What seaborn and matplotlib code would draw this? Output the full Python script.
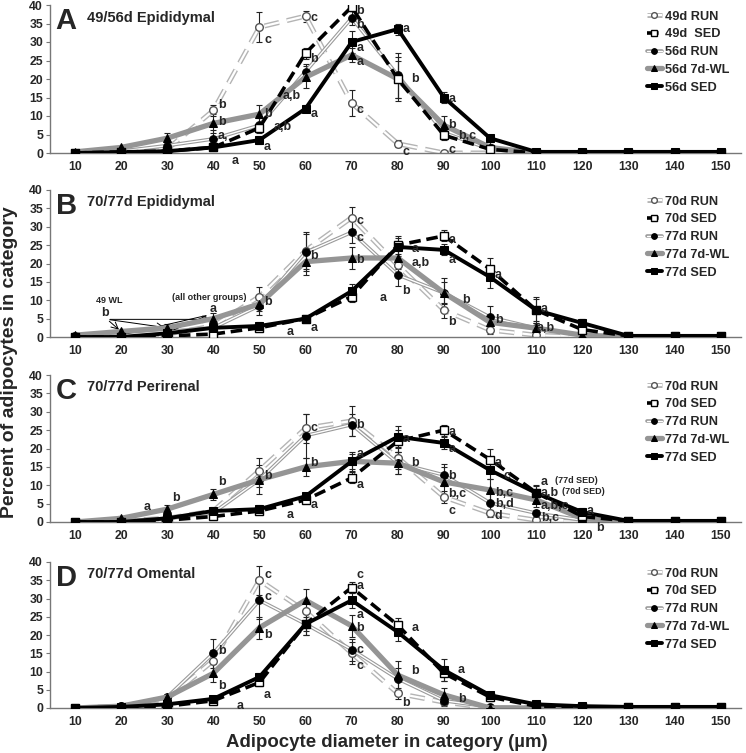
import numpy as np
import pandas as pd
import matplotlib
matplotlib.use("Agg")
import matplotlib.pyplot as plt
import seaborn as sns
from matplotlib.legend_handler import HandlerTuple

sns.set_theme(style="white")
plt.rcParams["font.family"] = ["Liberation Sans", "DejaVu Sans"]
plt.rcParams["font.weight"] = "bold"

diam = [10, 20, 30, 40, 50, 60, 70, 80, 90, 100, 110, 120, 130, 140, 150]

# Panel A: 49/56d Epididymal (mean % and error)
a_49run = [0, 0.5, 1, 11.5, 34, 37, 13.5, 2.5, 0, 0, 0, 0, 0, 0, 0]
a_49sed = [0, 0.3, 0.5, 1.5, 6.8, 27, 39.5, 20, 4.8, 1, 0, 0, 0, 0, 0]
a_56run = [0, 0.5, 2, 3.8, 7.5, 22, 36.5, 21, 5.5, 1, 0, 0, 0, 0, 0]
a_56wl = [0.3, 1.5, 4, 8, 10.5, 20.5, 26.5, 20, 7.5, 1.5, 0, 0, 0, 0, 0]
a_56sed = [0, 0.2, 0.5, 1.5, 3.5, 12, 30, 33.5, 15, 4, 0.3, 0.3, 0.3, 0.3, 0.3]
a_49run_e = [0, 0, 0, 1.5, 4, 1.5, 3.5, 1, 0, 0, 0, 0, 0, 0, 0]
a_49sed_e = [0, 0, 0, 0.5, 1, 1.5, 1, 6, 1, 0.5, 0, 0, 0, 0, 0]
a_56run_e = [0, 0, 1, 2.5, 2, 2, 2, 6, 2, 0.5, 0, 0, 0, 0, 0]
a_56wl_e = [0, 0.5, 1.5, 2.5, 2.5, 3, 2, 5, 2.5, 1, 0, 0, 0, 0, 0]
a_56sed_e = [0, 0, 0.5, 0.5, 1, 1, 3, 1.5, 1.5, 1, 0, 0, 0, 0, 0]

# Panel B: 70/77d Epididymal
b_70run = [0.2, 0.5, 0.8, 3, 11, 23.5, 32.5, 19.5, 7.3, 1.9, 0.5, 0, 0, 0, 0]
b_70sed = [0, 0, 0.3, 0.8, 2.5, 5, 11, 25, 27.5, 18.5, 7.3, 2, 0.3, 0.2, 0.2]
b_77run = [0.2, 0.5, 1.5, 2.5, 8.5, 23, 28.5, 16.9, 12, 5.4, 2.4, 0.5, 0, 0, 0]
b_77wl = [0.5, 1.5, 2.5, 5, 9, 20.5, 21.5, 21.5, 12, 4, 2.4, 0.5, 0, 0, 0]
b_77sed = [0, 0, 1, 2.5, 3, 5, 12.5, 24.5, 23.7, 16.3, 7.3, 3.8, 0.3, 0.3, 0.3]
b_70run_e = [0, 0, 0, 1, 2.5, 5, 3, 2, 2, 1, 0.5, 0, 0, 0, 0]
b_70sed_e = [0, 0, 0, 0.5, 0.5, 0.5, 1.5, 2.5, 1.5, 3, 3, 3, 0, 0, 0]
b_77run_e = [0, 0, 0.5, 1, 2.5, 5, 3, 3, 3, 3, 1, 0, 0, 0, 0]
b_77wl_e = [0, 0.5, 1, 1.5, 2, 3.5, 3, 3, 4, 2, 1.5, 0, 0, 0, 0]
b_77sed_e = [0, 0, 0.5, 0.5, 1, 0.5, 2, 2.5, 1.5, 3, 3.5, 1, 0, 0, 0]

# Panel C: 70/77d Perirenal
c_70run = [0, 0.3, 1, 3, 14, 25.5, 27.5, 17.5, 6.8, 2.4, 0.5, 0, 0, 0, 0]
c_70sed = [0, 0, 0.5, 1.5, 3, 6, 12, 22, 25, 17, 8, 1.5, 0.3, 0.2, 0.2]
c_77run = [0, 0.3, 1, 2.5, 11.5, 23.5, 26.5, 16, 12.8, 5.2, 2.4, 0.5, 0, 0, 0]
c_77wl = [0, 1, 3.5, 7.5, 11.5, 15, 16.5, 16, 10.9, 8.7, 6, 1, 0, 0, 0]
c_77sed = [0, 0, 1, 3, 3.5, 7, 16.5, 23.2, 21.5, 14.1, 7.9, 2.7, 0.3, 0.3, 0.3]
c_70run_e = [0, 0, 0, 1, 3.5, 4, 4, 3, 1.5, 1, 0.5, 0, 0, 0, 0]
c_70sed_e = [0, 0, 0, 0.5, 0.5, 0.5, 1.5, 3, 1.5, 3, 2, 1, 0, 0, 0]
c_77run_e = [0, 0, 0.5, 1, 4, 6, 3, 3, 3, 3, 1, 0.5, 0, 0, 0]
c_77wl_e = [0, 0.5, 1, 1.5, 2, 2.5, 2, 3, 4, 3, 2, 0.5, 0, 0, 0]
c_77sed_e = [0, 0, 0.5, 0.5, 1, 0.5, 2.5, 3, 1.5, 2.5, 2, 1, 0, 0, 0]

# Panel D: 70/77d Omental
d_70run = [0, 0.5, 2.5, 13, 35, 26.5, 15, 4, 1.6, 0, 0, 0, 0, 0, 0]
d_70sed = [0, 0, 0.5, 2, 7, 23, 33, 22.7, 9.5, 3, 0.5, 0.3, 0.2, 0.2, 0.2]
d_77run = [0, 0.5, 3, 15, 29.5, 23, 16, 8, 2, 0.3, 0, 0, 0, 0, 0]
d_77wl = [0, 0.5, 3, 9.5, 22, 29.5, 22.5, 9, 3.6, 0, 0, 0, 0, 0, 0]
d_77sed = [0, 0.3, 1, 2.5, 8.5, 23, 29.5, 20.8, 10.4, 3.5, 1, 0.5, 0.3, 0.3, 0.3]
d_70run_e = [0, 0, 0, 3, 4, 3, 3, 1.5, 1, 0, 0, 0, 0, 0, 0]
d_70sed_e = [0, 0, 0, 0.5, 1, 2, 1.5, 2, 2, 1, 0.5, 0, 0, 0, 0]
d_77run_e = [0, 0, 0.5, 4, 5, 3, 3, 3, 1, 0, 0, 0, 0, 0, 0]
d_77wl_e = [0, 0, 0.5, 2.5, 3, 3, 3, 4, 2, 0, 0, 0, 0, 0, 0]
d_77sed_e = [0, 0, 0.5, 0.5, 1, 3, 2, 2.5, 3, 1, 0.5, 0, 0, 0, 0]

panel_letters = ["A", "B", "C", "D"]
panel_titles = ["49/56d Epididymal", "70/77d Epididymal", "70/77d Perirenal", "70/77d Omental"]
legend_labels = [
    ["49d RUN", "49d  SED", "56d RUN", "56d 7d-WL", "56d SED"],
    ["70d RUN", "70d SED", "77d RUN", "77d 7d-WL", "77d SED"],
    ["70d RUN", "70d SED", "77d RUN", "77d 7d-WL", "77d SED"],
    ["70d RUN", "70d SED", "77d RUN", "77d 7d-WL", "77d SED"],
]
panel_data = [
    [a_49run, a_49sed, a_56run, a_56wl, a_56sed],
    [b_70run, b_70sed, b_77run, b_77wl, b_77sed],
    [c_70run, c_70sed, c_77run, c_77wl, c_77sed],
    [d_70run, d_70sed, d_77run, d_77wl, d_77sed],
]
panel_err = [
    [a_49run_e, a_49sed_e, a_56run_e, a_56wl_e, a_56sed_e],
    [b_70run_e, b_70sed_e, b_77run_e, b_77wl_e, b_77sed_e],
    [c_70run_e, c_70sed_e, c_77run_e, c_77wl_e, c_77sed_e],
    [d_70run_e, d_70sed_e, d_77run_e, d_77wl_e, d_77sed_e],
]

# significance letters (x, y, text)
panel_notes = [
    [(71, 38.5, "b"), (71, 34.5, "b"), (71, 28.5, "a"), (71, 24.5, "a"), (61, 36.5, "c"),
     (51, 30.5, "c"), (71, 11.5, "c"), (61, 25.5, "b"), (55, 15.5, "a,b"), (61, 10.5, "a"),
     (51, 10.5, "b"), (53, 7, "a,b"), (51, 1.5, "a"), (41, 13, "b"), (41, 8.5, "b"),
     (41, 4.5, "a,"), (44, -2.2, "a"), (81, 33.5, "a"), (83, 20, "b"), (81, 0.3, "c"),
     (91, 14.5, "a"), (91, 7.5, "b"), (93, 4.5, "b,c"), (91, 0.8, "c")],
    [(71, 31.5, "c"), (71, 27, "c"), (71, 21, "b"), (61, 22, "b"), (51, 9.5, "b"),
     (76, 10.5, "a"), (61, 2.5, "a"), (56, 1.3, "a"), (83, 24, "a"),
     (83, 20, "a,b"), (81, 12.5, "b"), (91, 26.5, "a"), (91, 21, "a"), (94, 10, "b"),
     (101, 17, "a"), (91, 4, "b"), (101, 4.5, "b"), (111, 7.5, "a"), (110, 2.5, "a,b")],
    [(61, 25.5, "c"), (71, 26.5, "b"), (61, 16, "b"), (51, 12.5, "b"), (41, 11, "b"),
     (31, 6.5, "b"), (25, 4, "a"), (71, 18.5, "a"), (71, 10, "a"), (61, 4.5, "a"),
     (56, 1.8, "a"), (81, 22.5, "a"), (83, 16, "b"), (91, 24.5, "a"), (91, 20, "a"),
     (91, 12.5, "b"), (91, 7.5, "b,c"), (91, 3, "c"), (101, 16, "a"), (103, 12.5, "c"),
     (101, 8, "b,c"), (101, 5, "b,d"), (101, 1.5, "d"), (111, 11, "a"),
     (111, 8, "a,b"), (111, 4.3, "a,b,c"), (111, 1.0, "b,c"), (121, 3, "a"), (123, -1.5, "b")],
    [(71, 36.5, "c"), (51, 36.5, "c"), (51, 30.5, "c"), (51, 20, "b"), (41, 15.5, "b"),
     (41, 6, "b"), (71, 33.5, "a"), (71, 25.5, "a"), (71, 22, "b"), (71, 16, "c"),
     (71, 11.5, "c"), (51, 3.5, "a"), (45, 0.5, "a"), (83, 22, "a"), (83, 10, "b"),
     (81, 1.5, "b"), (93, 10.5, "a"), (93, 2.5, "b")],
]

fig = plt.figure(figsize=(7.46, 7.53), dpi=100)
W, H = 746, 753
ax_px = [(5, 153), (190, 337), (375, 522), (562, 708)]
left_px, right_px = 50, 741
xlim = (4.6, 154.4)

RUN_GREY = "#b4b4b4"
WL_GREY = "#959595"
MS = 5.5

for i, (top, bot) in enumerate(ax_px):
    ax = fig.add_axes([left_px / W, 1 - bot / H, (right_px - left_px) / W, (bot - top) / H])
    ser = panel_data[i]
    errs = panel_err[i]
    labs = legend_labels[i]
    handles = []

    # error bars
    for k, (vals, e) in enumerate(zip(ser, errs)):
        xs = [x for x, ee in zip(diam, e) if ee > 0]
        ys = [v for v, ee in zip(vals, e) if ee > 0]
        es = [ee for ee in e if ee > 0]
        ax.errorbar(xs, ys, yerr=es, fmt="none", ecolor="#222222", elinewidth=0.8,
                    capsize=2, capthick=0.8, zorder=1.5)

    # series 1: open circles, hollow light grey dashed line
    l1a = sns.lineplot(x=diam, y=ser[0], ax=ax, color=RUN_GREY, lw=3.6,
                       linestyle=(0, (3.0, 1.6)), zorder=2).lines[-1]
    l1b = sns.lineplot(x=diam, y=ser[0], ax=ax, color="white", lw=1.6,
                       linestyle=(0, (6.75, 3.6)), marker="o", markersize=MS,
                       markerfacecolor="white", markeredgecolor="#555555",
                       markeredgewidth=1.0, zorder=2.1).lines[-1]
    handles.append((l1a, l1b))

    # series 2: open squares, black dashed
    l2 = sns.lineplot(x=diam, y=ser[1], ax=ax, color="black", lw=2.6,
                      linestyle=(0, (3.2, 1.6)), marker="s", markersize=MS,
                      markerfacecolor="white", markeredgecolor="black",
                      markeredgewidth=1.0, zorder=5).lines[-1]
    handles.append(l2)

    # series 3: filled circles, hollow thin grey line
    l3a = sns.lineplot(x=diam, y=ser[2], ax=ax, color="#9a9a9a", lw=2.6, zorder=3).lines[-1]
    l3b = sns.lineplot(x=diam, y=ser[2], ax=ax, color="white", lw=1.0, marker="o",
                       markersize=MS, markerfacecolor="black", markeredgecolor="black",
                       zorder=3.1).lines[-1]
    handles.append((l3a, l3b))

    # series 4: thick grey with black triangles
    l4 = sns.lineplot(x=diam, y=ser[3], ax=ax, color=WL_GREY, lw=3.8, marker="^",
                      markersize=MS, markerfacecolor="black", markeredgecolor="black",
                      zorder=4).lines[-1]
    handles.append(l4)

    # series 5: black solid with black squares
    l5 = sns.lineplot(x=diam, y=ser[4], ax=ax, color="black", lw=2.8, marker="s",
                      markersize=MS, markerfacecolor="black", markeredgecolor="black",
                      zorder=6).lines[-1]
    handles.append(l5)

    ax.set_xlim(*xlim)
    ax.set_ylim(0, 40)
    ax.set_xticks(diam)
    ax.set_xticklabels([str(d) for d in diam], fontsize=8.8, fontweight="bold")
    ax.set_yticks(range(0, 41, 5))
    ax.set_yticklabels([str(v) for v in range(0, 41, 5)], fontsize=8.8, fontweight="bold")
    ax.tick_params(axis="y", length=3, width=0.8, color="#777777", pad=2, left=True)
    ax.tick_params(axis="x", length=0, pad=6)
    for s in ["top", "right"]:
        ax.spines[s].set_visible(False)
    for s in ["left", "bottom"]:
        ax.spines[s].set_color("#777777")
        ax.spines[s].set_linewidth(1.0)
    ax.set_xlabel("")
    ax.set_ylabel("")

    ax.text(5.8, 39.5, panel_letters[i], fontsize=21, fontweight="bold", va="top", ha="left")
    ax.text(12.6, 36.6, panel_titles[i], fontsize=10.5, fontweight="bold", va="center", ha="left")

    for (x, y, t) in panel_notes[i]:
        ax.text(x, y, t, fontsize=9, fontweight="bold", ha="left", va="center", zorder=10)

    ax.legend(handles, labs, loc="upper right", bbox_to_anchor=(0.994, 1.014),
              frameon=False, handlelength=1.15, handletextpad=0.25,
              labelspacing=0.45, borderaxespad=0.2, markerscale=0.75,
              prop={"weight": "bold", "size": 9.2},
              handler_map={tuple: HandlerTuple(ndivide=1, pad=0)})

    if i == 1:
        ax.text(14.5, 10.0, "49 WL", fontsize=6.5, fontweight="bold", ha="left", va="center")
        ax.text(16.5, 6.5, "b", fontsize=9, fontweight="bold", ha="center", va="center")
        ax.text(31, 10.8, "(all other groups)", fontsize=6.5, fontweight="bold", ha="left", va="center")
        ax.text(40, 7.6, "a", fontsize=9, fontweight="bold", ha="center", va="center")
        for tx, ty in [(20, 1.5), (30, 2.5), (40, 4.8)]:
            ax.annotate("", xy=(tx, ty), xytext=(17, 4.8),
                        arrowprops=dict(arrowstyle="->", lw=0.7, color="black"))
        for tx, ty in [(20, 0.5), (30, 1.2)]:
            ax.annotate("", xy=(tx, ty), xytext=(39, 6),
                        arrowprops=dict(arrowstyle="->", lw=0.7, color="black"))
    if i == 2:
        ax.text(114, 11.2, "(77d SED)", fontsize=6.5, fontweight="bold", ha="left", va="center")
        ax.text(115.5, 8.2, "(70d SED)", fontsize=6.5, fontweight="bold", ha="left", va="center")

fig.text(0.013, 0.519, "Percent of adipocytes in category", rotation=90,
         fontsize=14, fontweight="bold", ha="center", va="center")
fig.text(0.518, 0.0146, "Adipocyte diameter in category (\u00b5m)",
         fontsize=13.4, fontweight="bold", ha="center", va="center")

fig.savefig("out.png", dpi=100)
